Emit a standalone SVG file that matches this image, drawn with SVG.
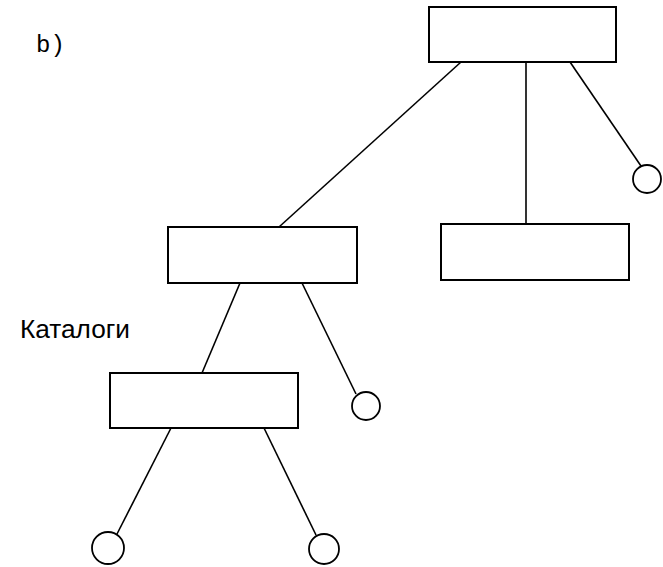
<svg xmlns="http://www.w3.org/2000/svg" width="663" height="567" viewBox="0 0 663 567">
<style>
.box{fill:#fff;stroke:#000;stroke-width:2}
.ln{stroke:#000;stroke-width:1.6;fill:none}
.c{fill:#fff;stroke:#000;stroke-width:1.8}
</style>
<rect width="663" height="567" fill="#fff"/>
<text x="36" y="52" font-family="Liberation Mono, monospace" font-size="24" fill="#000">b)</text>
<text x="20" y="338" font-family="Liberation Sans, Arial, sans-serif" font-size="25" fill="#000" textLength="110" lengthAdjust="spacingAndGlyphs">Каталоги</text>
<g id="connectors">
<line class="ln" x1="461" y1="62" x2="279" y2="227"/>
<line class="ln" x1="526" y1="62" x2="526" y2="224"/>
<line class="ln" x1="570" y1="62" x2="641" y2="166"/>
<line class="ln" x1="240" y1="283" x2="202" y2="373"/>
<line class="ln" x1="302" y1="283" x2="356" y2="394"/>
<line class="ln" x1="171" y1="428" x2="117" y2="534"/>
<line class="ln" x1="264" y1="428" x2="316" y2="535"/>
</g>
<g id="root"><rect class="box" x="429" y="7" width="187" height="55"/></g>
<g id="mid"><rect class="box" x="168" y="227" width="189" height="56"/></g>
<g id="right"><rect class="box" x="441" y="224" width="188" height="56"/></g>
<g id="bottom"><rect class="box" x="110" y="373" width="188" height="55"/></g>
<g id="leaf1"><circle class="c" cx="647" cy="179" r="14"/></g>
<g id="leaf2"><circle class="c" cx="366" cy="406" r="14"/></g>
<g id="leaf3"><circle class="c" cx="108" cy="548" r="16"/></g>
<g id="leaf4"><circle class="c" cx="324" cy="549" r="15"/></g>
</svg>
